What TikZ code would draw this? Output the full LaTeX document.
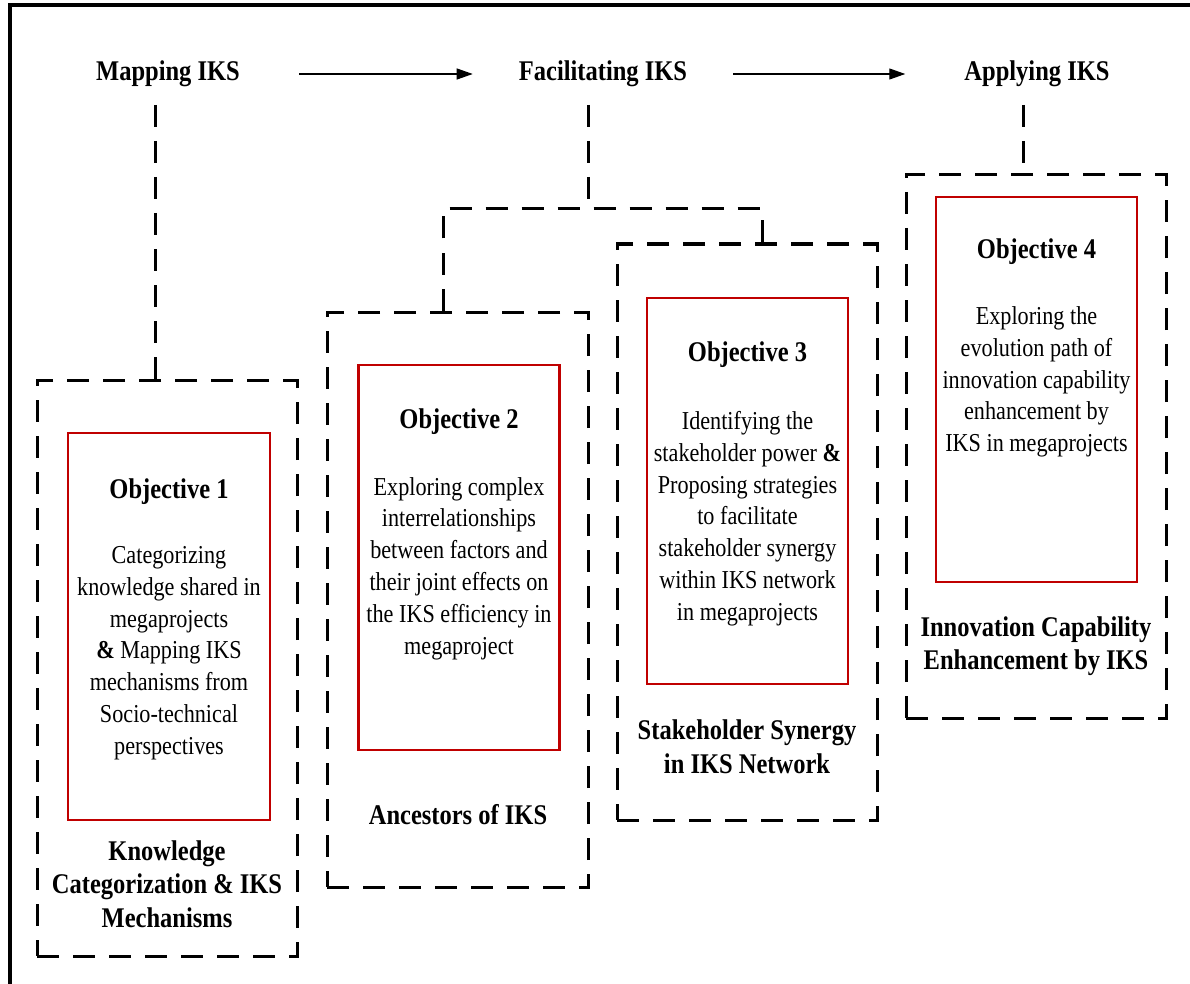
\documentclass[tikz,border=0pt]{standalone}
\usepackage{fontspec}
\setmainfont{Liberation Serif}[FakeStretch=0.86]
\usetikzlibrary{arrows.meta}
\definecolor{objred}{RGB}{192,0,0}
\begin{document}
\begin{tikzpicture}[x=1pt,y=-1pt,
  dbox/.style={draw, line width=3pt, dash pattern=on 22pt off 14pt, inner sep=0pt},
  objbox/.style={draw=objred, line width=2.8pt, inner sep=0pt},
  stage/.style={font=\fontsize{28.5}{33}\selectfont\bfseries, inner sep=0pt},
  objtitle/.style={font=\fontsize{28.5}{33}\selectfont\bfseries, inner sep=0pt},
  objtext/.style={font=\fontsize{25.8}{31.8}\selectfont, align=center, inner sep=0pt},
  caption/.style={font=\fontsize{28.5}{33.5}\selectfont\bfseries, align=center, inner sep=0pt},
  link/.style={line width=3pt, dash pattern=on 22pt off 14pt},
  flow/.style={line width=1.2pt, -{Triangle[length=16pt,width=11pt]}}]
\useasboundingbox (0,0) rectangle (1190,984);
% outer frame (top and left edges)
\draw[line width=3.5pt] (1200,5) -| (10,1000);

% stage headings and the flow between them
\node[stage] (map) at (168,74) {Mapping IKS};
\node[stage] (fac) at (603,74) {Facilitating IKS};
\node[stage] (app) at (1037,74) {Applying IKS};
\draw[flow] ([xshift=59pt]map.east) -- ([xshift=-46pt]fac.west);
\draw[flow] ([xshift=46pt]fac.east) -- ([xshift=-59pt]app.west);

% dashed stage boxes
\node[dbox, minimum width=260, minimum height=576] (b1) at (167,668) {};
\node[dbox, minimum width=261, minimum height=575] (b2) at (457.5,599.5) {};
\node[dbox, minimum width=260, minimum height=576] (b3) at (747,532) {};
\node[dbox, minimum width=260, minimum height=543] (b4) at (1036,446.5) {};

% objective boxes
\node[objbox, minimum width=202, minimum height=387] (o1) at (169,626.5) {};
\node[objbox, minimum width=201, minimum height=385] (o2) at (459,557.5) {};
\node[objbox, minimum width=201, minimum height=386] (o3) at (747.5,491) {};
\node[objbox, minimum width=201, minimum height=385] (o4) at (1036.5,389.5) {};

% objective 1
\node[objtitle] (t1) at (169,492) {Objective 1};
\node[objtext] (x1) at (169,653) {Categorizing\\knowledge shared in\\megaprojects\\\textbf{\&} Mapping IKS\\mechanisms from\\Socio-technical\\perspectives};
\node[caption] (c1) at (167,884) {Knowledge\\Categorization \& IKS\\Mechanisms};

% objective 2
\node[objtitle] (t2) at (459,422) {Objective 2};
\node[objtext] (x2) at (459,568.5) {Exploring complex\\interrelationships\\between factors and\\their joint effects on\\the IKS efficiency in\\megaproject};
\node[caption] (c2) at (458,815) {Ancestors of IKS};

% objective 3
\node[objtitle] (t3) at (747.5,355) {Objective 3};
\node[objtext] (x3) at (747.5,518.5) {Identifying the\\stakeholder power \textbf{\&}\\Proposing strategies\\to facilitate\\stakeholder synergy\\within IKS network\\in megaprojects};
\node[caption] (c3) at (747,746.5) {Stakeholder Synergy\\in IKS Network};

% objective 4
\node[objtitle] (t4) at (1036.5,252) {Objective 4};
\node[objtext] (x4) at (1036.5,382) {Exploring the\\evolution path of\\innovation capability\\enhancement by\\IKS in megaprojects};
\node[caption] (c4) at (1036,646) {Innovation Capability\\Enhancement by IKS};

% dashed links from the stage headings to the boxes
\coordinate (m0) at (155,105);
\draw[link] (m0) -- (m0 |- b1.north);
\coordinate (f0) at (588,105);
\coordinate (fj) at (588,209);
\coordinate (fl) at (443,209);
\coordinate (fr) at (762,209);
\draw[link] (f0) -- (fj);
\draw[link] (fl |- b2.north) -- (fl) -- (fr) -- (fr |- b3.north);
\coordinate (a0) at (1023,105);
\draw[link] (a0) -- (a0 |- b4.north);
\end{tikzpicture}
\end{document}
